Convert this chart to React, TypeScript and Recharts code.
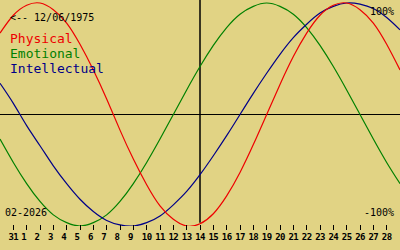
import { LineChart, Line, XAxis, YAxis, ReferenceLine } from "recharts";

// Biorhythm, birth date 12/06/1975, month 02-2026; index 0 = Jan 30, index 15 = today (the 14th)
const dayLabels = [
  "31", "1", "2", "3", "4", "5", "6", "7", "8", "9", "10", "11", "12", "13", "14",
  "15", "16", "17", "18", "19", "20", "21", "22", "23", "24", "25", "26", "27", "28",
];

const physical = [
  0.73, 0.89, 0.98, 1.0, 0.94, 0.82, 0.63, 0.4, 0.14, -0.14, -0.4, -0.63, -0.82, -0.94, -1.0,
  -0.98, -0.89, -0.73, -0.52, -0.27, 0, 0.27, 0.52, 0.73, 0.89, 0.98, 1.0, 0.94, 0.82, 0.63, 0.4,
];

const emotional = [
  -0.22, -0.43, -0.62, -0.78, -0.9, -0.97, -1.0, -0.97, -0.9, -0.78, -0.62, -0.43, -0.22, 0, 0.22,
  0.43, 0.62, 0.78, 0.9, 0.97, 1.0, 0.97, 0.9, 0.78, 0.62, 0.43, 0.22, 0, -0.22, -0.43, -0.62,
];

const intellectual = [
  0.28, 0.1, -0.1, -0.28, -0.46, -0.62, -0.76, -0.87, -0.95, -0.99, -1.0, -0.97, -0.91, -0.81, -0.69,
  -0.54, -0.37, -0.19, 0, 0.19, 0.37, 0.54, 0.69, 0.81, 0.91, 0.97, 1.0, 0.99, 0.95, 0.87, 0.76,
];

const todayIndex = 15;
const birthLabel = "<-- 12/06/1975";
const monthLabel = "02-2026";

const RED = "#ee0000";
const GREEN = "#008000";
const BLUE = "#000088";
const BG = "#e1d384";
const MONO = "'DejaVu Sans Mono', monospace";

const data = physical.map((p, i) => ({
  day: i,
  physical: p,
  emotional: emotional[i],
  intellectual: intellectual[i],
}));

const tickValues = dayLabels.map((_, i) => i + 1);

function DayTick(props: any) {
  const { x, y, payload } = props;
  const label = dayLabels[payload.value - 1];
  const dx = label.length === 1 ? -3 : 0;
  return (
    <g>
      <line x1={x} x2={x} y1={y - 1} y2={y + 4} stroke="#000" shapeRendering="crispEdges" />
      <text
        x={x + dx}
        y={y + 14}
        textAnchor="middle"
        fontFamily={MONO}
        fontSize={9}
        fontWeight="bold"
        letterSpacing={-0.6}
        fill="#000"
      >
        {label}
      </text>
    </g>
  );
}

export default function App() {
  return (
    <div style={{ position: "absolute", left: 0, top: 0, width: 400, height: 250, background: BG }}>
      <LineChart width={400} height={250} data={data} margin={{ top: 0, right: 0, bottom: 0, left: 0 }}>
        <XAxis
          dataKey="day"
          type="number"
          domain={[0, 30]}
          ticks={tickValues}
          interval={0}
          axisLine={false}
          tickLine={false}
          tickSize={0}
          tickMargin={0}
          height={24}
          tick={<DayTick />}
        />
        <YAxis hide type="number" domain={[-1, 1.027]} allowDataOverflow />
        <ReferenceLine y={0} stroke="#000" strokeWidth={1} shapeRendering="crispEdges" />
        <ReferenceLine
          segment={[
            { x: todayIndex, y: -0.97 },
            { x: todayIndex, y: 1.027 },
          ]}
          stroke="#000"
          strokeWidth={1.5}
        />
        <Line type="natural" dataKey="emotional" stroke={GREEN} strokeWidth={1.2} dot={false} activeDot={false} isAnimationActive={false} />
        <Line type="natural" dataKey="intellectual" stroke={BLUE} strokeWidth={1.2} dot={false} activeDot={false} isAnimationActive={false} />
        <Line type="natural" dataKey="physical" stroke={RED} strokeWidth={1.2} dot={false} activeDot={false} isAnimationActive={false} />
      </LineChart>
      <svg
        width={400}
        height={250}
        style={{ position: "absolute", left: 0, top: 0, pointerEvents: "none" }}
      >
        <text x={10} y={21} fontFamily={MONO} fontSize={10} fill="#000">{birthLabel}</text>
        <text x={10} y={43} fontFamily={MONO} fontSize={13} fill={RED}>Physical</text>
        <text x={10} y={58} fontFamily={MONO} fontSize={13} fill={GREEN}>Emotional</text>
        <text x={10} y={73} fontFamily={MONO} fontSize={13} fill={BLUE}>Intellectual</text>
        <text x={394} y={15} textAnchor="end" fontFamily={MONO} fontSize={10} fill="#000">100%</text>
        <text x={394} y={216} textAnchor="end" fontFamily={MONO} fontSize={10} fill="#000">-100%</text>
        <text x={5} y={216} fontFamily={MONO} fontSize={10} fill="#000">{monthLabel}</text>
      </svg>
    </div>
  );
}
